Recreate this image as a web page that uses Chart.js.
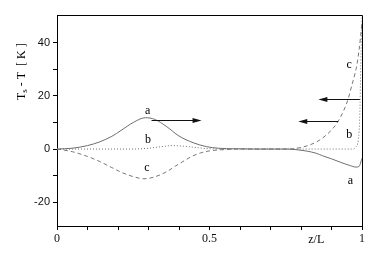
<!DOCTYPE html>
<html>
<head>
<meta charset="utf-8">
<script src="https://cdn.jsdelivr.net/npm/chart.js@4/dist/chart.umd.min.js"></script>
<style>
  html, body { margin: 0; padding: 0; background: #fff; }
  canvas { display: block; }
</style>
</head>
<body>
<canvas id="c" width="382" height="262"></canvas>
<script>
// ---- data (z/L, Ts - T [K]) ----
const aZ = [0, 0.05, 0.1, 0.14, 0.18, 0.21, 0.25, 0.29, 0.32, 0.36, 0.4, 0.446, 0.49, 0.53, 0.58, 0.65, 0.75, 0.78, 0.82, 0.85, 0.87, 0.9, 0.93, 0.96, 0.98, 0.99, 1.0];
const aV = [0, 0.3, 1.3, 2.7, 4.8, 7.0, 10.0, 11.8, 11.2, 8.4, 4.9, 2.4, 0.9, 0.3, 0.1, 0, 0, -0.2, -0.8, -1.6, -2.5, -3.7, -5.0, -6.2, -6.8, -6.6, -3.5];

const bZ = [0, 0.25, 0.3, 0.35, 0.38, 0.42, 0.46, 0.5, 0.55, 0.97, 0.98, 0.988, 0.993, 0.996, 1.0];
const bV = [0, 0, 0.3, 1.0, 1.3, 1.0, 0.5, 0.1, 0, 0, 0.8, 3.5, 13.6, 32, 50];

const cZ = [0, 0.05, 0.1, 0.14, 0.18, 0.21, 0.25, 0.285, 0.32, 0.36, 0.39, 0.413, 0.44, 0.47, 0.5, 0.55, 0.6, 0.76, 0.8, 0.83, 0.86, 0.884, 0.905, 0.922, 0.94, 0.955, 0.966, 0.975, 0.983, 0.99, 0.995, 1.0];
const cV = [0, -1.0, -2.8, -4.7, -7.0, -8.7, -10.4, -11.2, -10.5, -8.5, -6.3, -4.7, -2.9, -1.5, -0.7, -0.2, 0, 0, 0.6, 1.6, 3.3, 5.4, 7.8, 10.5, 14.5, 19, 23.7, 27.5, 31.5, 37, 42, 48];

// ticks
const xTicks = [0, 0.1, 0.2, 0.3, 0.4, 0.5, 0.6, 0.7, 0.8, 0.9, 1];
const xLabels = { 0: '0', 0.5: '0.5', 1: '1' };
const yTicks = [-20, -10, 0, 10, 20, 30, 40];
const yLabels = [-20, 0, 20, 40];

// curve labels
const labelText = ['a', 'b', 'c', 'c', 'b', 'a'];
const labelZ = [0.297, 0.298, 0.295, 0.958, 0.958, 0.962];
const labelV = [14.3, 3.4, -7.2, 31.8, 5.4, -12];

// arrows (from -> to, at level)
const arrowFrom = [0.31, 0.993, 0.922];
const arrowTo = [0.474, 0.857, 0.791];
const arrowV = [11, 18.9, 10.5];

const toPts = (zs, vs) => zs.map((z, i) => ({ x: z, y: vs[i] }));

const extras = {
  id: 'extras',
  afterDraw(chart) {
    const { ctx, chartArea: ca, scales: { x, y } } = chart;
    ctx.save();
    // top & right frame
    ctx.strokeStyle = '#000';
    ctx.lineWidth = 1;
    ctx.beginPath();
    ctx.moveTo(ca.left, ca.top + 0.5);
    ctx.lineTo(Math.round(ca.right) + 0.5, ca.top + 0.5);
    ctx.lineTo(Math.round(ca.right) + 0.5, ca.bottom);
    ctx.stroke();

    // arrows
    ctx.strokeStyle = '#111';
    ctx.fillStyle = '#111';
    for (let i = 0; i < arrowFrom.length; i++) {
      const x0 = x.getPixelForValue(arrowFrom[i]);
      const x1 = x.getPixelForValue(arrowTo[i]);
      const yy = Math.round(y.getPixelForValue(arrowV[i])) + 0.5;
      const dir = Math.sign(x1 - x0);
      ctx.beginPath();
      ctx.moveTo(x0, yy);
      ctx.lineTo(x1 - dir * 6, yy);
      ctx.stroke();
      ctx.beginPath();
      ctx.moveTo(x1, yy);
      ctx.lineTo(x1 - dir * 9, yy - 2.5);
      ctx.lineTo(x1 - dir * 9, yy + 2.5);
      ctx.closePath();
      ctx.fill();
    }

    // curve labels
    ctx.fillStyle = '#000';
    ctx.font = '12px "Liberation Serif"';
    ctx.textAlign = 'center';
    ctx.textBaseline = 'middle';
    for (let i = 0; i < labelText.length; i++) {
      ctx.fillText(labelText[i], x.getPixelForValue(labelZ[i]), y.getPixelForValue(labelV[i]));
    }

    // x axis name
    ctx.font = '12px "Liberation Serif"';
    ctx.fillText('z/L', x.getPixelForValue(0.85), ca.bottom + 14);

    // y axis title with subscript
    ctx.translate(20.7, 71.7);
    ctx.rotate(-Math.PI / 2);
    const big = '12px "Liberation Serif"', small = '9px "Liberation Serif"';
    const p1 = 'T', p2 = 's', p3 = ' - T  [ K ]';
    ctx.font = big; const w1 = ctx.measureText(p1).width, w3 = ctx.measureText(p3).width;
    ctx.font = small; const w2 = ctx.measureText(p2).width;
    let sx = -(w1 + w2 + w3) / 2;
    ctx.textAlign = 'left';
    ctx.textBaseline = 'alphabetic';
    ctx.font = big; ctx.fillText(p1, sx, 4); sx += w1;
    ctx.font = small; ctx.fillText(p2, sx, 6.5); sx += w2;
    ctx.font = big; ctx.fillText(p3, sx, 4);
    ctx.restore();
  }
};

new Chart(document.getElementById('c'), {
  type: 'line',
  data: {
    datasets: [
      { label: 'a', data: toPts(aZ, aV), borderColor: '#6e6e6e', borderWidth: 1, pointRadius: 0, cubicInterpolationMode: 'monotone', fill: false },
      { label: 'b', data: toPts(bZ, bV), borderColor: '#707070', borderWidth: 1, borderDash: [1, 2], pointRadius: 0, cubicInterpolationMode: 'monotone', fill: false },
      { label: 'c', data: toPts(cZ, cV), borderColor: '#777777', borderWidth: 1, borderDash: [4, 3], pointRadius: 0, cubicInterpolationMode: 'monotone', fill: false }
    ]
  },
  options: {
    responsive: false,
    animation: false,
    devicePixelRatio: 1,
    layout: { padding: { top: 15, right: 20, left: 0, bottom: 0 } },
    plugins: { legend: { display: false }, tooltip: { enabled: false } },
    scales: {
      x: {
        type: 'linear', min: 0, max: 1,
        afterBuildTicks: s => { s.ticks = xTicks.map(v => ({ value: v })); },
        afterFit: s => { s.height = 36; },
        ticks: {
          autoSkip: false, maxRotation: 0, padding: 2,
          color: '#111',
          font: { family: '"Liberation Serif"', size: 12 },
          callback: v => (xLabels[v] !== undefined ? xLabels[v] : '')
        },
        grid: { drawOnChartArea: false, drawTicks: true, tickLength: 4, tickColor: '#000', tickWidth: 1 },
        border: { display: true, color: '#000', width: 1 }
      },
      y: {
        type: 'linear', min: -29, max: 50.5,
        afterBuildTicks: s => { s.ticks = yTicks.map(v => ({ value: v })); },
        afterFit: s => { s.width = 57; },
        ticks: {
          autoSkip: false, padding: 3,
          color: '#111',
          font: { family: '"Liberation Sans"', size: 11 },
          callback: v => (yLabels.includes(v) ? String(v) : '')
        },
        grid: { drawOnChartArea: false, drawTicks: true, tickLength: 4, tickColor: '#000', tickWidth: 1 },
        border: { display: true, color: '#000', width: 1 }
      }
    }
  },
  plugins: [extras]
});
</script>
</body>
</html>
